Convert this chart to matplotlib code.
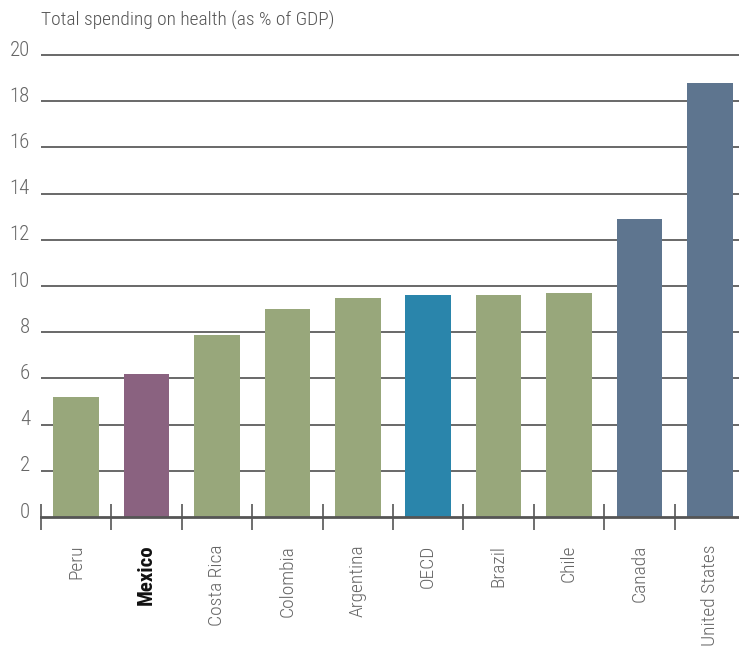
import matplotlib
matplotlib.use("Agg")
import matplotlib.pyplot as plt
from matplotlib.transforms import ScaledTranslation

plt.rcParams['font.family'] = ['Roboto Condensed', 'DejaVu Sans']
plt.rcParams['font.weight'] = 300

countries = ["Peru", "Mexico", "Costa Rica", "Colombia", "Argentina",
             "OECD", "Brazil", "Chile", "Canada", "United States"]
spending = [5.2, 6.2, 7.9, 9.0, 9.5, 9.6, 9.6, 9.7, 12.9, 18.8]
groups = ["latam", "mexico", "latam", "latam", "latam",
          "oecd", "latam", "latam", "na", "na"]
yticks = [0, 2, 4, 6, 8, 10, 12, 14, 16, 18, 20]
ylabel = "Total spending on health (as % of GDP)"

palette = {"latam": "#98a77b", "mexico": "#8a6280",
           "oecd": "#2a85ab", "na": "#5e758f"}

W, H = 739, 646
fig = plt.figure(figsize=(W / 100, H / 100), dpi=100)

left_px, right_px = 41, 739
bottom_px, top_px = 517, 50.4
ax = fig.add_axes([left_px / W, 1 - bottom_px / H,
                   (right_px - left_px) / W, (bottom_px - top_px) / H])

x = range(len(countries))
ax.bar(x, spending, width=0.65, color=[palette[g] for g in groups],
       zorder=3)

ax.set_xlim(-0.5, 9.415)
ax.set_ylim(0, 20.2)

# horizontal rules
for v in yticks[1:]:
    ax.axhline(v, color="#404040", lw=1.1, zorder=1)

for s in ["top", "right", "left"]:
    ax.spines[s].set_visible(False)
ax.spines["bottom"].set_color("#555555")
ax.spines["bottom"].set_linewidth(2.0)
ax.spines["bottom"].set_zorder(4)

# y axis labels sit just above each rule
ax.set_yticks(yticks)
ax.set_yticklabels([str(v) for v in yticks])
ax.tick_params(axis="y", length=0, pad=8, labelsize=15, labelcolor="#666666")
for lab in ax.get_yticklabels():
    lab.set_transform(lab.get_transform() +
                      ScaledTranslation(0, 5 / 72, fig.dpi_scale_trans))

# category separators as major ticks, names as minor tick labels
ax.set_xticks([i - 0.5 for i in x])
ax.set_xticklabels([])
ax.tick_params(axis="x", which="major", direction="inout", length=19,
               width=1.2, color="#555555")
ax.set_xticks(list(x), minor=True)
ax.set_xticklabels(countries, minor=True, rotation=90, va="top", ha="center")
ax.tick_params(axis="x", which="minor", length=0, pad=20, labelsize=14,
               labelcolor="#666666")
for lab in ax.get_xticklabels(minor=True):
    if lab.get_text() == "Mexico":
        lab.set_fontweight("bold")
        lab.set_fontsize(15)
        lab.set_color("#111111")

fig.text(left_px / W, 1 - 20 / H, ylabel, ha="left", va="center",
         fontsize=14, color="#555555")

fig.savefig("out.png", dpi=100)
